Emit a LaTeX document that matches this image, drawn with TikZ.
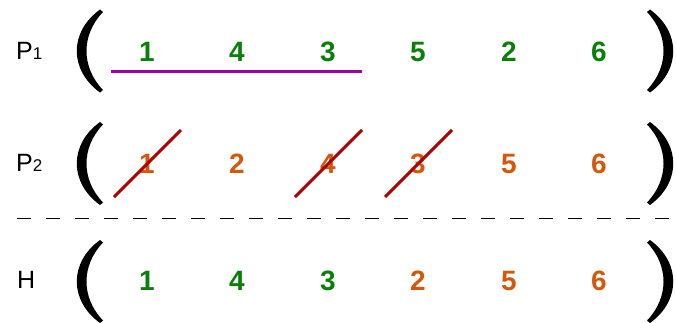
\documentclass[tikz,border=0pt]{standalone}
\usepackage{fontspec}
\setmainfont{Liberation Sans}
\definecolor{numgreen}{RGB}{10,128,10}
\definecolor{numorange}{RGB}{212,88,10}
\definecolor{strikered}{RGB}{176,0,0}
\definecolor{segpurple}{RGB}{160,0,160}
\tikzset{
  numg/.style={text=numgreen, font=\fontsize{28}{28}\selectfont\bfseries, inner sep=0pt},
  numo/.style={text=numorange, font=\fontsize{28}{28}\selectfont\bfseries, inner sep=0pt},
  rowlabel/.style={font=\fontsize{25}{25}\selectfont, anchor=base west, inner sep=0pt},
  strike/.style={draw=strikered, line width=3pt},
  lparen/.pic={\fill[black] (0,-41.5) .. controls (-31,-19) and (-31,19) .. (0,41.5)
      -- (3,39) .. controls (-19,16) and (-19,-16) .. (3,-39) -- cycle;},
  rparen/.pic={\begin{scope}[xscale=-1]\fill[black] (0,-41.5) .. controls (-31,-19) and (-31,19) .. (0,41.5)
      -- (3,39) .. controls (-19,16) and (-19,-16) .. (3,-39) -- cycle;\end{scope}},
}
\newcommand{\smalldigit}[1]{{\fontsize{17}{17}\selectfont #1}}
\begin{document}
\begin{tikzpicture}[x=1pt,y=-1pt]
\useasboundingbox (0,0) rectangle (676,322);
% labels
\node[rowlabel] (lp1) at (16,59) {P\smalldigit{1}};
\node[rowlabel] (lp2) at (16,171) {P\smalldigit{2}};
\node[rowlabel] (lh) at (17,288) {H};
% parentheses
\pic at (100,51) {lparen};
\pic at (650,51) {rparen};
\pic at (100,163.5) {lparen};
\pic at (650,163.5) {rparen};
\pic at (100,281.5) {lparen};
\pic at (650,281.5) {rparen};
% row 1
\coordinate (segA) at (111,71);
\coordinate (segB) at (362,71);
\draw[segpurple, line width=3pt] (segA) -- (segB);
\node[numg] (a1) at (147,52) {1};
\node[numg] (a2) at (237,52) {4};
\node[numg] (a3) at (328,52) {3};
\node[numg] (a4) at (418,52) {5};
\node[numg] (a5) at (509,52) {2};
\node[numg] (a6) at (599,52) {6};
% row 2
\node[numo] (b1) at (147,163.5) {1};
\node[numo] (b2) at (237,163.5) {2};
\node[numo] (b3) at (328,163.5) {4};
\node[numo] (b4) at (418,163.5) {3};
\node[numo] (b5) at (509,163.5) {5};
\node[numo] (b6) at (599,163.5) {6};
\foreach \n in {b1,b3,b4}{
  \draw[strike] ([shift={(-33,33.5)}]\n.center) -- ([shift={(34,-33.5)}]\n.center);
}
% separator
\coordinate (sepL) at (17,218.5);
\coordinate (sepR) at (676,218.5);
\draw[line width=1.5pt, dash pattern=on 14pt off 15pt] (sepL) -- (sepR);
% row 3
\node[numg] (c1) at (147,281) {1};
\node[numg] (c2) at (237,281) {4};
\node[numg] (c3) at (328,281) {3};
\node[numo] (c4) at (418,281) {2};
\node[numo] (c5) at (509,281) {5};
\node[numo] (c6) at (599,281) {6};
\end{tikzpicture}
\end{document}
